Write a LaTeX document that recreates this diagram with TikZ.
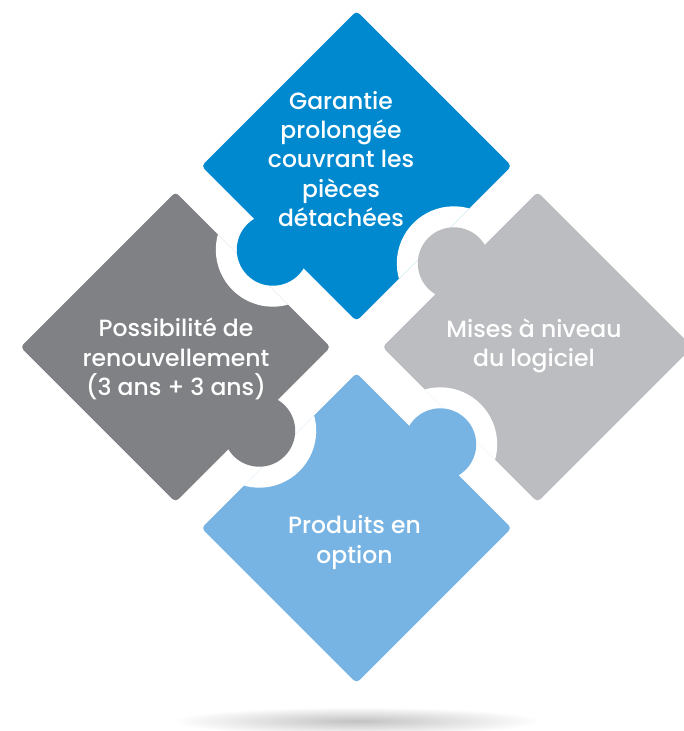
\documentclass[tikz,border=0pt]{standalone}
\usepackage{fontspec}
\newfontfamily\pfont{Poppins}[UprightFont={* Medium}]
\definecolor{cTop}{HTML}{0089CF}
\definecolor{cLeft}{HTML}{808185}
\definecolor{cRight}{HTML}{BCBDC0}
\definecolor{cBot}{HTML}{78B4E3}
\tikzset{
  piecebody/.style={rounded corners=4pt},
  piecetext/.style={text=white, inner sep=0pt, font=\pfont\fontsize{23.5}{29.2}\selectfont, align=center},
}
\begin{document}
\begin{tikzpicture}[x=1pt,y=-1pt]
\useasboundingbox (0,0) rectangle (684,731);
% piece centres
\coordinate (T) at (356.5,166);
\coordinate (L) at (175.5,347);
\coordinate (R) at (537.5,347);
\coordinate (B) at (356.5,528);
% knob centres
\coordinate (K1) at (272.8,249.7);
\coordinate (K2) at (453.8,263.3);
\coordinate (K3) at (440.2,444.3);
\coordinate (K4) at (259.2,430.7);
% bodies
\fill[cTop,piecebody] (356.5,11) -- (511.5,166) -- (356.5,321) -- (201.5,166) -- cycle;
\fill[cLeft,piecebody] (175.5,192) -- (330.5,347) -- (175.5,502) -- (20.5,347) -- cycle;
\fill[cRight,piecebody] (537.5,192) -- (692.5,347) -- (537.5,502) -- (382.5,347) -- cycle;
\fill[cBot,piecebody] (356.5,373) -- (511.5,528) -- (356.5,683) -- (201.5,528) -- cycle;
% notches
\begin{scope}
\clip (175.5,192) -- (330.5,347) -- (175.5,502) -- (20.5,347) -- cycle;
\fill[white] (K1) circle[radius=57];
\end{scope}
\begin{scope}
\clip (356.5,11) -- (511.5,166) -- (356.5,321) -- (201.5,166) -- cycle;
\fill[white] (K2) circle[radius=57];
\end{scope}
\begin{scope}
\clip (537.5,192) -- (692.5,347) -- (537.5,502) -- (382.5,347) -- cycle;
\fill[white] (K3) circle[radius=57];
\end{scope}
\begin{scope}
\clip (356.5,373) -- (511.5,528) -- (356.5,683) -- (201.5,528) -- cycle;
\fill[white] (K4) circle[radius=57];
\end{scope}
% knobs
\fill[cTop] (K1) circle[radius=36];
\fill[cRight] (K2) circle[radius=36];
\fill[cBot] (K3) circle[radius=36];
\fill[cLeft] (K4) circle[radius=36];
% texts
\node[piecetext] (tT) at (341,159) {Garantie\\prolongée\\couvrant les\\pièces\\détachées};
\node[piecetext] (tL) at (176,359) {Possibilité de\\renouvellement\\(3 ans + 3 ans)};
\node[piecetext] (tR) at (534,345.5) {Mises à niveau\\du logiciel};
\node[piecetext] (tB) at (354.5,542.5) {Produits en\\option};
% shadow
\shade[inner color=black!24, outer color=white] (356.5,721) ellipse [x radius=185, y radius=14];
\end{tikzpicture}
\end{document}
